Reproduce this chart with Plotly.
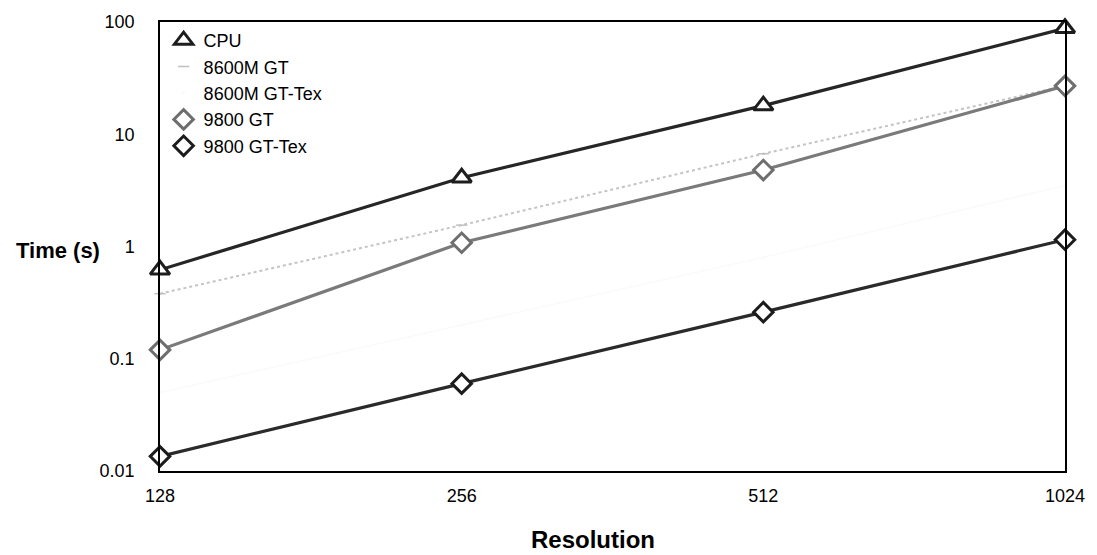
import math
import plotly.graph_objects as go

# Rendering time (seconds) per grid resolution
resolution = [128, 256, 512, 1024]
res_labels = ["128", "256", "512", "1024"]

cpu = [0.62, 4.1, 18.0, 88.0]
gt8600m = [0.38, 1.55, 6.7, 27.0]
gt8600m_tex = [0.05, 0.2, 0.8, 3.5]
gt9800 = [0.12, 1.08, 4.8, 27.0]
gt9800_tex = [0.0135, 0.06, 0.26, 1.15]

y_ticks = [0.01, 0.1, 1, 10, 100]
y_labels = ["0.01", "0.1", "1", "10", "100"]

series = [
    # name, values, line colour, line width, dash, marker symbol, outline, size
    ("8600M GT-Tex", gt8600m_tex, "#fafafa", 1.5, "solid", "circle", "#fafafa", 2),
    ("8600M GT", gt8600m, "#c4c4c4", 2.0, "dot", "line-ew", "#c0c0c0", 8),
    ("9800 GT", gt9800, "#7a7a7a", 3.2, "solid", "diamond", "#6e6e6e", 15),
    ("9800 GT-Tex", gt9800_tex, "#2a2a2a", 3.2, "solid", "diamond", "#1c1c1c", 15),
    ("CPU", cpu, "#262626", 3.2, "solid", "triangle-up", "#1e1e1e", 17),
]
legend_order = ["CPU", "8600M GT", "8600M GT-Tex", "9800 GT", "9800 GT-Tex"]

fig = go.Figure()

# connecting lines (no legend entry)
for name, vals, col, lw, dash, sym, mcol, msize in series:
    fig.add_trace(go.Scatter(
        x=resolution, y=vals, mode="lines", name=name,
        line=dict(color=col, width=lw, dash=dash),
        showlegend=False, cliponaxis=False, hoverinfo="skip",
    ))

# point markers, which also provide the legend glyphs
for name, vals, col, lw, dash, sym, mcol, msize in series:
    fig.add_trace(go.Scatter(
        x=resolution, y=vals, mode="markers", name=name,
        marker=dict(symbol=sym, size=msize, color="white",
                    line=dict(color=mcol, width=3 if msize > 10 else 1.5)),
        legendrank=legend_order.index(name) + 1,
        cliponaxis=False,
    ))

font = "Liberation Sans, Arial, sans-serif"

# pad the log range by a hair so the end points sit exactly on the frame
x_lo = math.log10(resolution[0]) - 1e-6
x_hi = math.log10(resolution[-1]) + 1e-6

fig.update_layout(
    width=1097, height=555,
    margin=dict(l=160, r=31, t=13, b=84),
    paper_bgcolor="white", plot_bgcolor="white",
    font=dict(family=font, size=16, color="black"),
    showlegend=True,
    legend=dict(
        x=0.004, y=1.0, xanchor="left", yanchor="top",
        bgcolor="rgba(0,0,0,0)", borderwidth=0,
        font=dict(family=font, size=18, color="black"),
        tracegroupgap=0, itemwidth=30,
    ),
    xaxis=dict(
        type="log",
        range=[x_lo, x_hi],
        tickmode="array", tickvals=resolution, ticktext=res_labels,
        showgrid=False, zeroline=False,
        showline=True, linecolor="black", linewidth=1.5, mirror=True,
        ticks="", ticklabelstandoff=8,
        tickfont=dict(family=font, size=18, color="black"),
    ),
    yaxis=dict(
        type="log",
        range=[-2, 2],
        tickmode="array", tickvals=y_ticks, ticktext=y_labels,
        showgrid=False, zeroline=False,
        showline=True, linecolor="black", linewidth=1.5, mirror=True,
        ticks="", ticklabelstandoff=20,
        tickfont=dict(family=font, size=18, color="black"),
    ),
    annotations=[
        dict(text="<b>Time (s)</b>", xref="paper", yref="paper",
             x=-0.1126, y=0.49, xanchor="center", yanchor="middle",
             showarrow=False, font=dict(family=font, size=22, color="black")),
        dict(text="<b>Resolution</b>", xref="paper", yref="paper",
             x=0.478, y=-0.152, xanchor="center", yanchor="middle",
             showarrow=False, font=dict(family=font, size=24, color="black")),
    ],
)

fig.write_html("out.html")
